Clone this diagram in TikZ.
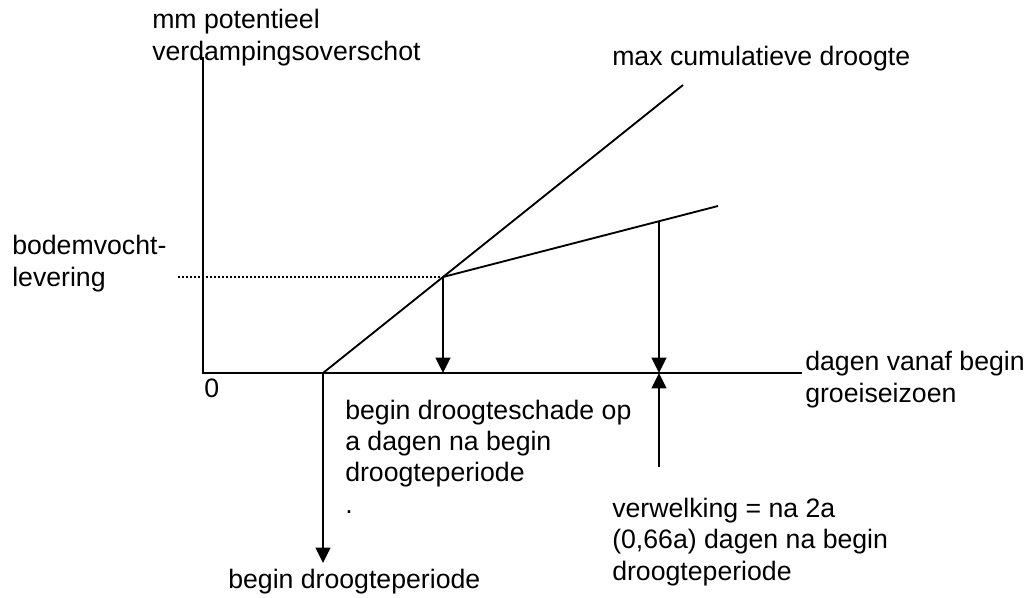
\documentclass[tikz,border=0pt]{standalone}
\usepackage{fontspec}
\setmainfont{Liberation Sans}
\usetikzlibrary{arrows.meta}

\begin{document}
\begin{tikzpicture}[x=0.75pt, y=-0.75pt]
\tikzstyle{every node}=[inner sep=0pt, font=\fontsize{20}{23.5}\selectfont]
\tikzstyle{lbl}=[anchor=base west, align=left]
\tikzstyle{axis}=[draw, line width=1.5pt]
\tikzstyle{curve}=[draw, line width=1.4pt]
\tikzstyle{pijl}=[draw, line width=1.5pt, -{Triangle[length=11.5pt, width=11pt]}]

\useasboundingbox (0,0) rectangle (1024,597);

% punten
\coordinate (O) at (203,373);
\coordinate (Ytop) at (203,57);
\coordinate (Xend) at (802,373);
\coordinate (D) at (323,373);
\coordinate (Dlow) at (323,563);
\coordinate (M) at (683,85);
\coordinate (K) at (443,277);
\coordinate (Kx) at (443,373);
\coordinate (S) at (718,206);
\coordinate (W) at (659,222);
\coordinate (Wx) at (659,373);
\coordinate (Wlow) at (659,467);
\coordinate (L) at (178,277);

% teksten (base = laatste regel)
\node[lbl] at (152,60) (ylab) {mm potentieel\\verdampingsoverschot};
\node[lbl] at (612,65) (maxlab) {max cumulatieve droogte};
\node[lbl] at (12,286) (bodlab) {bodemvocht-\\levering};
\node[lbl] at (204,397) (zero) {0};
\node[lbl] at (805,402) (xlab) {dagen vanaf begin\\groeiseizoen};
\node[lbl] at (345,513) (schlab) {begin droogteschade op\\a dagen na begin\\droogteperiode\\.};
\node[lbl] at (612,580) (verlab) {verwelking = na 2a\\(0,66a) dagen na begin\\droogteperiode};
\node[lbl] at (228,588) (perlab) {begin droogteperiode};

% assen
\draw[axis] (Ytop) -- (O) -- (Xend);
\draw[line width=0.8pt, dash pattern=on 1.5pt off 1.5pt] (L) -- (K);

% lijnen
\draw[curve] (D) -- (M);
\draw[curve] (K) -- (S);

% pijlen
\draw[pijl] (K) -- (Kx);
\draw[pijl] (W) -- (Wx);
\draw[pijl] (Wlow) -- (Wx);
\draw[pijl] (D) -- (Dlow);
\end{tikzpicture}
\end{document}
